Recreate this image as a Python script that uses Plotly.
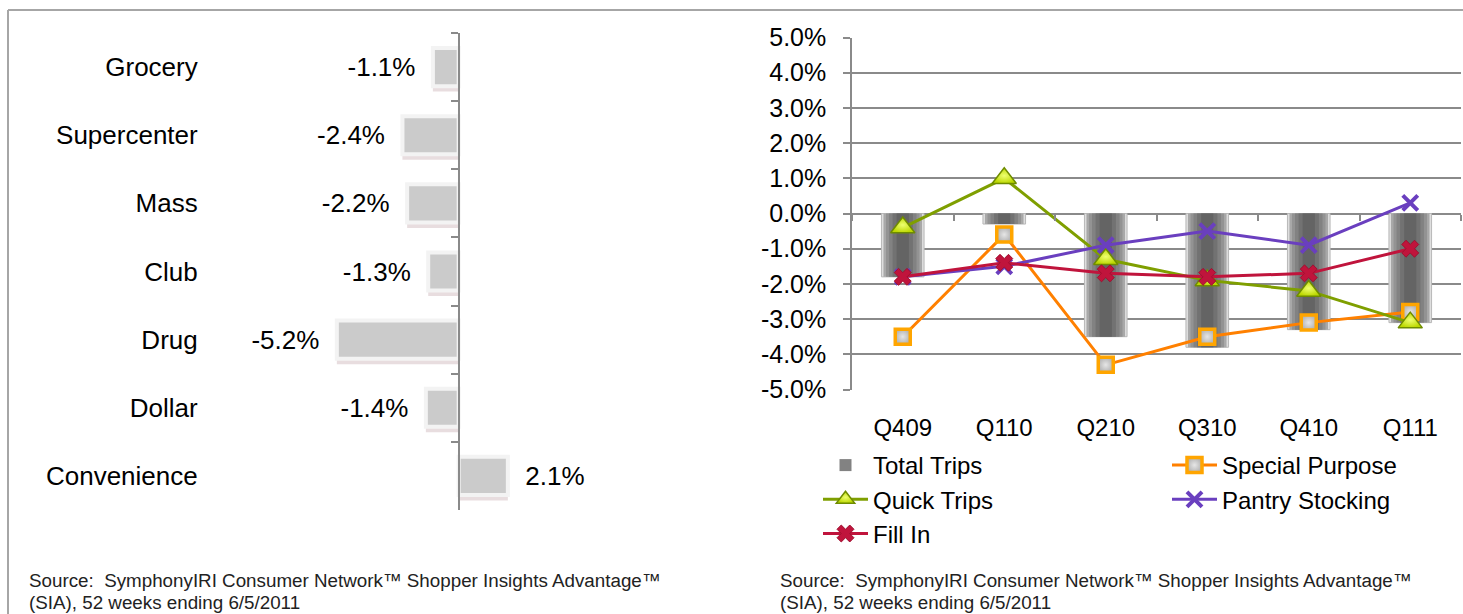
import plotly.graph_objects as go

# ---------------- data ----------------
channels = ["Grocery", "Supercenter", "Mass", "Club", "Drug", "Dollar", "Convenience"]
channel_change = [-1.1, -2.4, -2.2, -1.3, -5.2, -1.4, 2.1]

quarters = ["Q409", "Q110", "Q210", "Q310", "Q410", "Q111"]
total_trips = [-1.8, -0.3, -3.5, -3.8, -3.3, -3.1]
special_purpose = [-3.5, -0.6, -4.3, -3.5, -3.1, -2.8]
quick_trips = [-0.4, 1.0, -1.3, -1.9, -2.2, -3.1]
pantry_stocking = [-1.8, -1.5, -0.9, -0.5, -0.9, 0.3]
fill_in = [-1.8, -1.4, -1.7, -1.8, -1.7, -1.0]

y_ticks = [5, 4, 3, 2, 1, 0, -1, -2, -3, -4, -5]
y_tick_labels = ["5.0%", "4.0%", "3.0%", "2.0%", "1.0%", "0.0%",
                 "-1.0%", "-2.0%", "-3.0%", "-4.0%", "-5.0%"]

source_line1 = "Source:\u00a0\u00a0SymphonyIRI Consumer Network\u2122 Shopper Insights Advantage\u2122"
source_line2 = "(SIA), 52 weeks ending 6/5/2011"

# ---------------- layout helpers ----------------
W, H = 1463, 614
FONT = "Liberation Sans, Arial, sans-serif"


def fx(p):
    return p / W


def fy(p):
    return 1 - p / H


# left chart geometry
L_DOM = [fx(215), fx(700)]
L_RANGE = [-10.4, 10.3]
L_ZERO = L_DOM[0] + (0 - L_RANGE[0]) / (L_RANGE[1] - L_RANGE[0]) * (L_DOM[1] - L_DOM[0])
L_YDOM = [fy(510), fy(33)]

# right chart geometry
R_DOM = [fx(852), fx(1461)]
R_YDOM = [fy(389.5), fy(37.5)]
R_RANGE = [-5, 5]
R_ZERO = R_YDOM[0] + (0 - R_RANGE[0]) / (R_RANGE[1] - R_RANGE[0]) * (R_YDOM[1] - R_YDOM[0])

fig = go.Figure()

# ---------------- left: horizontal bars ----------------
left_text = [("%.1f%%" % v + "\u00a0\u00a0") if v < 0 else ("\u00a0\u00a0" + "%.1f%%" % v)
             for v in channel_change]

fig.add_trace(go.Bar(
    x=channel_change, y=channels, orientation="h",
    width=0.56, offset=-0.2,
    marker=dict(color="rgba(110,45,55,0.16)", line=dict(width=0)),
    hoverinfo="skip", showlegend=False, xaxis="x", yaxis="y",
))
fig.add_trace(go.Bar(
    x=channel_change, y=channels, orientation="h",
    width=0.56,
    marker=dict(color="#cbcbcb", line=dict(color="#f3f3f3", width=4)),
    text=left_text, textposition="outside", cliponaxis=False,
    textfont=dict(size=26, color="#000000", family=FONT),
    showlegend=False, xaxis="x", yaxis="y",
))

# ---------------- right: Total Trips bars (layered for a shaded look) ----------------
bar_layers = [(0.42, "#dedede", "#b8b8b8", 1), (0.38, "#a8a8a8", None, 0),
              (0.33, "#939393", None, 0), (0.27, "#828282", None, 0),
              (0.20, "#727272", None, 0), (0.12, "#646464", None, 0)]
for i, (w, c, lc, lw) in enumerate(bar_layers):
    fig.add_trace(go.Bar(
        x=quarters, y=total_trips, width=w, name="Total Trips",
        marker=dict(color=c, line=dict(color=lc or c, width=lw)),
        showlegend=(i == 3), legend="legend", legendgroup="tt",
        xaxis="x2", yaxis="y2",
    ))

fig.add_trace(go.Scatter(
    x=quarters, y=special_purpose, name="Special Purpose", mode="lines+markers",
    line=dict(color="#ff8000", width=3),
    marker=dict(symbol="square", size=15, color="#b4b4b4",
                gradient=dict(type="radial", color="#e6e6e6"),
                line=dict(color="#ffa500", width=3.5)),
    legend="legend2", legendgroup="sp", xaxis="x2", yaxis="y2",
))
fig.add_trace(go.Scatter(
    x=quarters, y=quick_trips, name="Quick Trips", mode="lines+markers",
    line=dict(color="#7f9f00", width=3),
    marker=dict(symbol="triangle-up", size=21, color="#bcd800",
                gradient=dict(type="radial", color="#eeff70"),
                line=dict(color="#6f8c00", width=1.5)),
    legend="legend", legendgroup="qt", xaxis="x2", yaxis="y2",
))
fig.add_trace(go.Scatter(
    x=quarters, y=pantry_stocking, name="Pantry Stocking", mode="lines+markers",
    line=dict(color="#6a3fbf", width=3),
    marker=dict(symbol="x-thin", size=15, color="#6a3fbf",
                line=dict(color="#6a3fbf", width=4)),
    legend="legend2", legendgroup="ps", xaxis="x2", yaxis="y2",
))
fig.add_trace(go.Scatter(
    x=quarters, y=fill_in, name="Fill In", mode="lines+markers",
    line=dict(color="#c0143c", width=3),
    marker=dict(symbol="x", size=15, color="#c0143c",
                line=dict(color="#a01030", width=1)),
    legend="legend", legendgroup="fi", xaxis="x2", yaxis="y2",
))

# ---------------- layout ----------------
legend_common = dict(
    orientation="v", xanchor="left", yanchor="top",
    font=dict(size=24, color="#000000", family=FONT),
    bgcolor="rgba(0,0,0,0)", tracegroupgap=0, itemwidth=45,
)

fig.update_layout(
    width=W, height=H,
    margin=dict(l=0, r=0, t=0, b=0, autoexpand=False),
    paper_bgcolor="white", plot_bgcolor="rgba(0,0,0,0)",
    font=dict(family=FONT, size=22, color="#000000"),
    barmode="overlay",
    showlegend=True,
    xaxis=dict(domain=L_DOM, range=L_RANGE, anchor="y",
               visible=False, showgrid=False, zeroline=False),
    yaxis=dict(domain=L_YDOM, type="category", categoryorder="array",
               categoryarray=channels, autorange="reversed",
               anchor="free", position=L_ZERO,
               showline=True, linecolor="#8a8a8a", linewidth=1.5,
               ticks="outside", tickson="boundaries", ticklen=7,
               tickcolor="#8a8a8a", tickwidth=1.5,
               showgrid=False, zeroline=False,
               ticklabelstandoff=255,
               tickfont=dict(size=26, color="#000000")),
    xaxis2=dict(domain=R_DOM, type="category", categoryorder="array",
                categoryarray=quarters, range=[-0.5, 5.5],
                anchor="free", position=R_ZERO,
                showline=False, showgrid=False, zeroline=False,
                ticks="outside", tickson="boundaries", ticklen=6,
                tickcolor="#8a8a8a", tickwidth=1.5,
                ticklabelstandoff=197,
                tickfont=dict(size=24, color="#000000")),
    yaxis2=dict(domain=R_YDOM, range=R_RANGE, anchor="x2",
                tickvals=y_ticks, ticktext=y_tick_labels,
                showline=True, linecolor="#8a8a8a", linewidth=1.5,
                ticks="outside", ticklen=7, tickcolor="#8a8a8a", tickwidth=1.5,
                showgrid=True, gridcolor="#8a8a8a", gridwidth=1.5,
                zeroline=False, ticklabelstandoff=12,
                tickfont=dict(size=25, color="#000000")),
    legend=dict(x=fx(818), y=fy(443), **legend_common),
    legend2=dict(x=fx(1167), y=fy(443), **legend_common),
    shapes=[
        dict(type="line", xref="paper", yref="paper",
             x0=fx(8), x1=1.0, y0=fy(10), y1=fy(10),
             line=dict(color="#a6a6a6", width=2)),
        dict(type="line", xref="paper", yref="paper",
             x0=fx(8), x1=fx(8), y0=fy(10), y1=0,
             line=dict(color="#a6a6a6", width=2)),
    ],
    annotations=[
        dict(text=source_line1, xref="paper", yref="paper", x=fx(27), y=fy(580),
             xanchor="left", yanchor="middle", showarrow=False,
             font=dict(size=18.8, color="#222222")),
        dict(text=source_line2, xref="paper", yref="paper", x=fx(27), y=fy(602),
             xanchor="left", yanchor="middle", showarrow=False,
             font=dict(size=18.8, color="#222222")),
        dict(text=source_line1, xref="paper", yref="paper", x=fx(778), y=fy(580),
             xanchor="left", yanchor="middle", showarrow=False,
             font=dict(size=18.8, color="#222222")),
        dict(text=source_line2, xref="paper", yref="paper", x=fx(778), y=fy(602),
             xanchor="left", yanchor="middle", showarrow=False,
             font=dict(size=18.8, color="#222222")),
    ],
)

fig.write_html(
    "out.html",
    config={"displayModeBar": False},
    post_script="document.body.style.margin='0';document.body.style.overflow='hidden';",
)
